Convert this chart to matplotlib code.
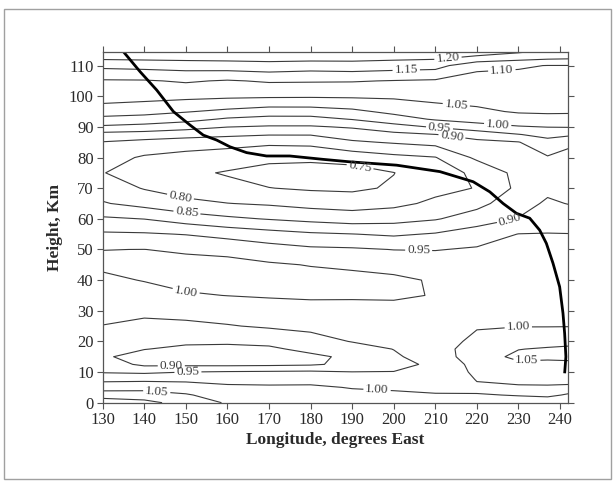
import numpy as np
import matplotlib
matplotlib.use("Agg")
import matplotlib.pyplot as plt
from matplotlib.patches import Rectangle

plt.rcParams['font.family'] = ['Liberation Serif', 'DejaVu Serif']

# grid
lon = [130, 140, 150, 160, 170, 180, 190, 200, 210, 220, 230, 237, 242]
height = [0, 2.5, 5, 7.5, 10, 12.5, 15, 17.5, 20, 25, 30, 35, 40, 45, 50, 55,
          60, 65, 70, 75, 80, 85, 87.5, 90, 92.5, 95, 100, 105, 110, 112.5, 115]

# one list per longitude column, bottom to top
ratio_by_lon = [
    [1.132, 1.075, 1.029, 0.989, 0.946, 0.926, 0.905, 0.912, 0.927, 0.949, 0.963, 0.977, 0.991, 1.008, 0.9995, 0.957,
     0.907, 0.854, 0.826, 0.801, 0.82, 0.848, 0.883, 0.942, 0.987, 1.022, 1.075, 1.095, 1.163, 1.21, 1.24],
    [1.115, 1.073, 1.032, 0.991, 0.941, 0.890, 0.886, 0.901, 0.914, 0.938, 0.961, 0.982, 1.002, 1.015, 1.0003, 0.955,
     0.899, 0.833, 0.797, 0.787, 0.794, 0.836, 0.878, 0.933, 0.980, 1.016, 1.068, 1.096, 1.168, 1.212, 1.24],
    [1.08, 1.055, 1.024, 0.990, 0.95, 0.889, 0.882, 0.893, 0.906, 0.939, 0.968, 0.996, 1.012, 1.014, 0.994, 0.948,
     0.877, 0.810, 0.782, 0.760, 0.783, 0.825, 0.870, 0.918, 0.967, 1.003, 1.063, 1.105, 1.173, 1.214, 1.24],
    [1.045, 1.027, 1.009, 0.985, 0.954, 0.888, 0.881, 0.892, 0.905, 0.947, 0.974, 1.0006, 1.0146, 1.013, 0.988, 0.933,
     0.859, 0.801, 0.764, 0.746, 0.775, 0.818, 0.861, 0.901, 0.943, 0.989, 1.059, 1.096, 1.177, 1.215, 1.24],
    [1.03, 1.018, 1.006, 0.986, 0.956, 0.890, 0.878, 0.892, 0.912, 0.956, 0.980, 1.004, 1.025, 1.0058, 0.971, 0.919,
     0.847, 0.794, 0.751, 0.731, 0.763, 0.810, 0.853, 0.895, 0.933, 0.976, 1.057, 1.105, 1.183, 1.216, 1.245],
    [1.025, 1.015, 1.006, 0.988, 0.958, 0.894, 0.89, 0.912, 0.932, 0.962, 0.985, 1.006, 1.0165, 0.998, 0.959, 0.907,
     0.836, 0.783, 0.744, 0.725, 0.762, 0.813, 0.853, 0.895, 0.933, 0.977, 1.056, 1.104, 1.175, 1.217, 1.245],
    [1.02, 1.0096, 0.998, 0.975, 0.951, 0.912, 0.91, 0.93, 0.952, 0.970, 0.988, 1.0045, 1.012, 0.993, 0.956, 0.901,
     0.826, 0.778, 0.741, 0.729, 0.770, 0.843, 0.874, 0.905, 0.952, 0.989, 1.057, 1.103, 1.18, 1.215, 1.245],
    [1.015, 1.0065, 0.995, 0.973, 0.951, 0.938, 0.9425, 0.951, 0.958, 0.972, 0.987, 1.006, 1.01, 0.982, 0.949, 0.893,
     0.832, 0.7875, 0.756, 0.749, 0.787, 0.855, 0.887, 0.931, 0.979, 1.012, 1.058, 1.098, 1.174, 1.211, 1.24],
    [1.01, 1.003, 0.990, 0.973, 0.962, 0.958, 0.975, 0.982, 0.984, 0.986, 0.99, 0.998, 0.995, 0.975, 0.948, 0.904,
     0.846, 0.81, 0.786, 0.782, 0.798, 0.866, 0.899, 0.955, 1.005, 1.029, 1.066, 1.094, 1.169, 1.207, 1.235],
    [1.008, 1.001, 0.996, 1.0013, 1.01, 1.018, 1.025, 1.02, 1.0082, 0.9973, 0.991, 0.985, 0.975, 0.965, 0.955, 0.926,
     0.874, 0.835, 0.802, 0.808, 0.86, 0.890, 0.919, 0.982, 1.017, 1.042, 1.067, 1.082, 1.112, 1.19, 1.225],
    [1.006, 0.9993, 0.9966, 1.0067, 1.0233, 1.04, 1.062, 1.0485, 1.0295, 0.9983, 0.9907, 0.983, 0.9751, 0.967, 0.959, 0.951,
     0.902, 0.881, 0.861, 0.866, 0.88, 0.898, 0.948, 0.996, 1.032, 1.054, 1.07, 1.085, 1.105, 1.17, 1.215],
    [1.006, 0.9981, 0.997, 1.0072, 1.0237, 1.0401, 1.0575, 1.0552, 1.0313, 0.9983, 0.992, 0.985, 0.9765, 0.968, 0.9595, 0.9515,
     0.930, 0.907, 0.889, 0.8845, 0.896, 0.934, 0.965, 1.0014, 1.037, 1.055, 1.070, 1.085, 1.099, 1.16, 1.199],
    [1.01, 1.001, 0.9952, 1.0079, 1.0243, 1.0408, 1.0596, 1.0587, 1.0361, 0.9985, 0.992, 0.985, 0.9765, 0.968, 0.9595, 0.951,
     0.925, 0.8985, 0.884, 0.8798, 0.886, 0.91, 0.96, 1.0027, 1.0365, 1.0545, 1.0695, 1.0845, 1.099, 1.157, 1.19],
]

levels = [0.75, 0.80, 0.85, 0.90, 0.95, 1.00, 1.05, 1.10, 1.15, 1.20]

# thick track line
track_lon = [135, 139, 143, 147, 151, 154.2, 157.4, 160.6, 164.6, 169.4, 175, 183, 189.4, 200.7, 211.1,
             219.1, 223.1, 226.3, 229.5, 232.7, 235.1, 236.7, 238.3, 239.9, 240.7, 241.1, 241.4, 241.1]
track_h = [114.5, 108, 102, 95, 90.6, 87.3, 85.7, 83.5, 81.6, 80.5, 80.5, 79.4, 78.6, 77.5, 75.4,
           72.1, 68.8, 65, 61.8, 60.2, 56.3, 52, 45.5, 37.8, 29.2, 22.6, 15, 9.6]

# where the contour labels sit (level, lon, height)
label_spots = [
    (1.20, 213, 113.0), (1.15, 203, 108.7), (1.10, 226, 108.4), (1.05, 215, 96.6),
    (1.00, 225, 90.8), (0.95, 211, 89.6), (0.90, 214, 87.0), (0.75, 192, 77.8),
    (0.80, 148.6, 66.5), (0.85, 150.2, 61.2), (0.90, 228, 59.8), (0.95, 206, 50.5),
    (1.00, 150, 35.8), (0.90, 146.5, 12.6), (0.95, 150.5, 10.2), (1.05, 143, 3.6),
    (1.00, 196, 4.6), (1.00, 230, 23.8), (1.05, 232, 13.8),
]

Z = np.array(ratio_by_lon).T

fig = plt.figure(figsize=(6.16, 4.84), dpi=100)
fig.patches.append(Rectangle((0.0065, 0.011), 0.985, 0.97, transform=fig.transFigure,
                             fill=False, edgecolor='#a0a0a0', linewidth=1.0))
ax = fig.add_axes([0.1667, 0.168, 0.756, 0.725])

# one contour set per level so each label lands on its own line
for lvl in levels:
    cs = ax.contour(lon, height, Z, levels=[lvl], colors='#3a3a3a', linewidths=0.8)
    spots = [(x, y) for l, x, y in label_spots if l == lvl]
    if spots:
        ax.clabel(cs, manual=spots, inline=True, inline_spacing=2,
                  fmt='%.2f', fontsize=9.5, colors='#3a3a3a')

ax.plot(track_lon, track_h, color='black', linewidth=2.0, solid_capstyle='butt')

ax.set_xlim(130, 242)
ax.set_ylim(0, 114.5)
ax.set_xticks(range(130, 241, 10))
ax.set_yticks(range(0, 111, 10))
ax.tick_params(direction='out', length=4, width=0.8, colors='#555555', labelcolor='#2a2a2a',
               labelsize=12, pad=2.5, top=True, right=True)
for s in ax.spines.values():
    s.set_color('#555555')
    s.set_linewidth(0.9)

ax.set_xlabel('Longitude, degrees East', fontsize=12.5, fontweight='bold', color='#2a2a2a', labelpad=3)
ax.set_ylabel('Height, Km', fontsize=12.5, fontweight='bold', color='#2a2a2a', labelpad=4)

fig.savefig('out.png', dpi=100)
